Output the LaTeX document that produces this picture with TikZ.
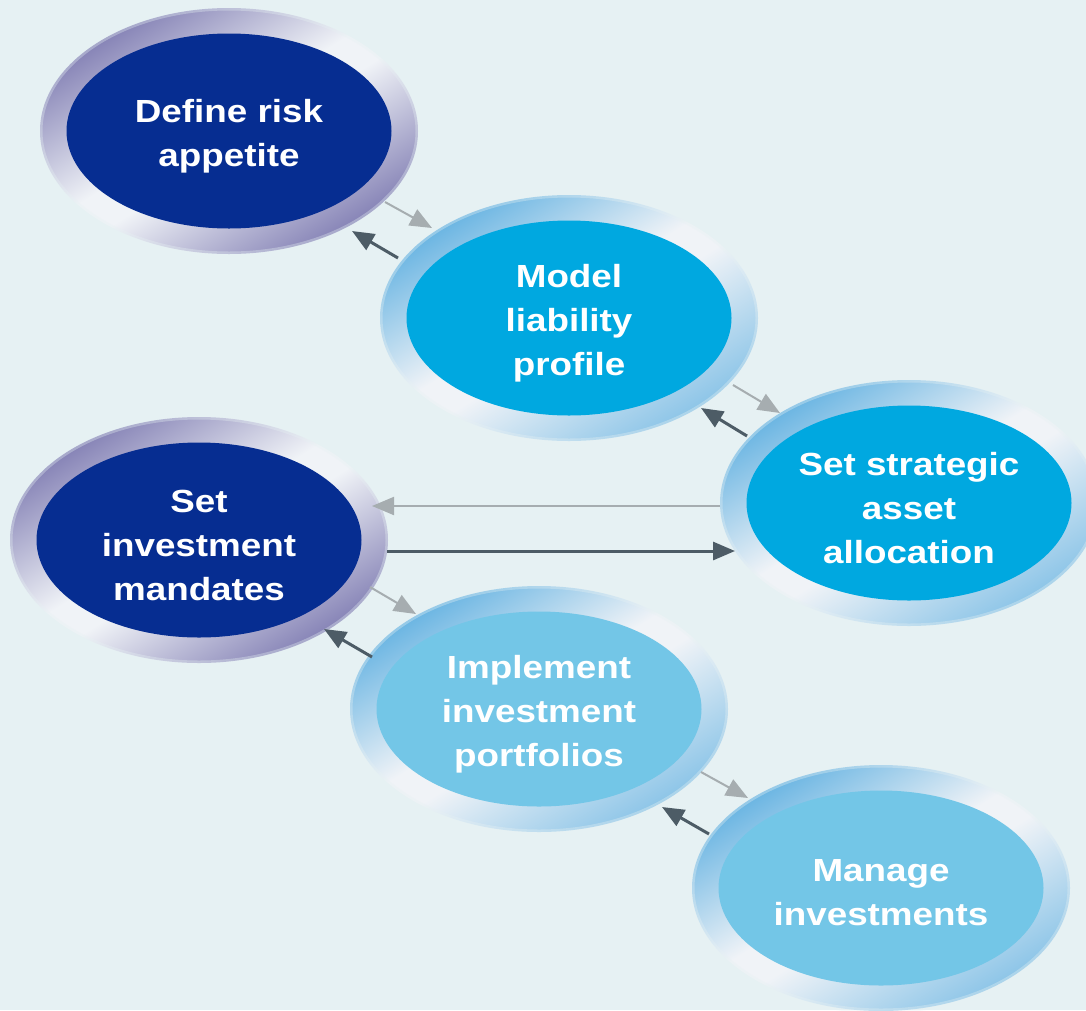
\documentclass[tikz,border=0pt]{standalone}
\usepackage{fontspec}
\newfontfamily\lbl[FakeStretch=1.15]{Liberation Sans}
\usetikzlibrary{arrows.meta,shapes.geometric}
\definecolor{bgc}{RGB}{230,241,243}
\definecolor{navy}{RGB}{6,45,145}
\definecolor{midb}{RGB}{0,168,224}
\definecolor{lightb}{RGB}{115,198,231}
\definecolor{ringD}{RGB}{132,129,181}
\definecolor{ringL}{RGB}{104,180,226}
\definecolor{ringW}{RGB}{240,243,247}
\definecolor{arrG}{RGB}{166,173,176}
\definecolor{arrK}{RGB}{77,92,102}
\pgfdeclareverticalshading{ringdk}{100bp}{color(0bp)=(ringD); color(25bp)=(ringD); color(47bp)=(ringW); color(53bp)=(ringW); color(75bp)=(ringD); color(100bp)=(ringD)}
\pgfdeclareverticalshading{ringlt}{100bp}{color(0bp)=(ringL!75!ringW); color(25bp)=(ringL!75!ringW); color(47bp)=(ringW); color(53bp)=(ringW); color(75bp)=(ringL); color(100bp)=(ringL)}
\tikzset{
  core/.style={ellipse, minimum width=325pt, minimum height=195pt, inner sep=0pt},
  navycore/.style={core, fill=navy},
  midcore/.style={core, fill=midb},
  lightcore/.style={core, fill=lightb},
  label text/.style={text=white, align=center, yshift=-5pt, font=\lbl\bfseries\fontsize{32}{44}\selectfont},
  ringdark/.style={shading=ringdk, shading angle=32},
  ringlight/.style={shading=ringlt, shading angle=32},
  softedge/.style={draw=bgc, draw opacity=0.35},
  fwd/.style={draw=arrG, line width=2pt, -{Triangle[length=22pt,width=18pt]}},
  back/.style={draw=arrK, line width=3pt, -{Triangle[length=22pt,width=18pt]}}
}
\begin{document}
\begin{tikzpicture}[x=1pt,y=-1pt]
\useasboundingbox (0,0) rectangle (1086,1010);
\clip (0,0) rectangle (1086,1010);
\fill[bgc] (0,0) rectangle (1086,1010);
% centres
\coordinate (c1) at (229,131);
\coordinate (c2) at (569,318);
\coordinate (c3) at (909,503);
\coordinate (c4) at (199,540);
\coordinate (c5) at (539,709);
\coordinate (c6) at (881,888);
% rings
\foreach \c/\s in {c1/ringdark, c2/ringlight, c3/ringlight, c4/ringdark, c5/ringlight, c6/ringlight}{
  \shade[\s] (\c) ellipse [x radius=189, y radius=123];
  \draw[softedge, line width=5pt] (\c) ellipse [x radius=189, y radius=123];
}
% cores
\node[navycore]  (n1) at (c1) {};
\node[midcore]   (n2) at (c2) {};
\node[midcore]   (n3) at (c3) {};
\node[navycore]  (n4) at (c4) {};
\node[lightcore] (n5) at (c5) {};
\node[lightcore] (n6) at (c6) {};
\node[label text] (t1) at (n1.center) {Define risk\\appetite};
\node[label text] (t2) at (n2.center) {Model\\liability\\profile};
\node[label text] (t3) at (n3.center) {Set strategic\\asset\\allocation};
\node[label text] (t4) at (n4.center) {Set\\investment\\mandates};
\node[label text] (t5) at (n5.center) {Implement\\investment\\portfolios};
\node[label text] (t6) at (n6.center) {Manage\\investments};
% arrow end points
\coordinate (a1s) at (385,202); \coordinate (a1e) at (432,228);
\coordinate (b1s) at (398,258); \coordinate (b1e) at (352,231);
\coordinate (a2s) at (733,385); \coordinate (a2e) at (780,413);
\coordinate (b2s) at (747,436); \coordinate (b2e) at (701,408);
\coordinate (hgs) at (720,506); \coordinate (hge) at (372,506);
\coordinate (hks) at (387,551); \coordinate (hke) at (735,551);
\coordinate (a3s) at (370,587); \coordinate (a3e) at (416,614);
\coordinate (b3s) at (372,657); \coordinate (b3e) at (324,629);
\coordinate (a4s) at (701,772); \coordinate (a4e) at (748,798);
\coordinate (b4s) at (709,834); \coordinate (b4e) at (662,807);
\draw[fwd] (a1s) -- (a1e);
\draw[back] (b1s) -- (b1e);
\draw[fwd] (a2s) -- (a2e);
\draw[back] (b2s) -- (b2e);
\draw[fwd] (hgs) -- (hge);
\draw[back] (hks) -- (hke);
\draw[fwd] (a3s) -- (a3e);
\draw[back] (b3s) -- (b3e);
\draw[fwd] (a4s) -- (a4e);
\draw[back] (b4s) -- (b4e);
\end{tikzpicture}
\end{document}
